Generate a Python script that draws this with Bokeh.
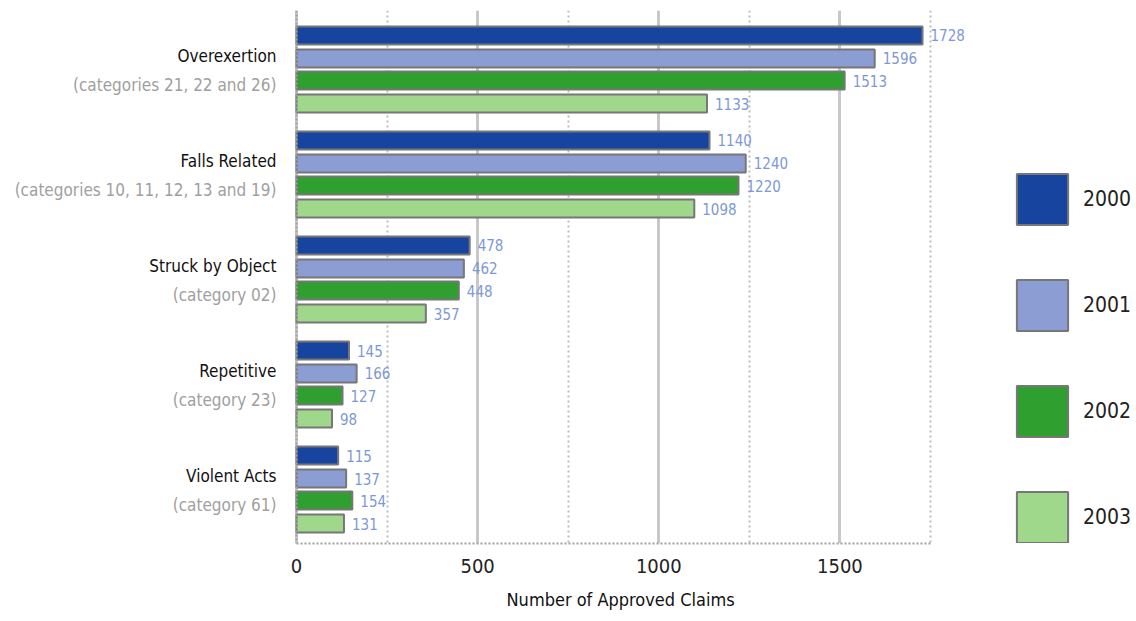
from bokeh.plotting import figure
from bokeh.models import (ColumnDataSource, Range1d, FixedTicker, Span,
                          Legend, LegendItem, Title)
from bokeh.core.properties import value
from bokeh.embed import file_html
from bokeh.resources import INLINE

# Approved claims by injury category and year
categories = ["Overexertion", "Falls Related", "Struck by Object", "Repetitive", "Violent Acts"]
subtitles = ["(categories 21, 22 and 26)", "(categories 10, 11, 12, 13 and 19)",
             "(category 02)", "(category 23)", "(category 61)"]
years = ["2000", "2001", "2002", "2003"]
claims_2000 = [1728, 1140, 478, 145, 115]
claims_2001 = [1596, 1240, 462, 166, 137]
claims_2002 = [1513, 1220, 448, 127, 154]
claims_2003 = [1133, 1098, 357, 98, 131]
x_ticks = [0, 500, 1000, 1500]
x_minor = [250, 750, 1250, 1750]
x_title = "Number of Approved Claims"

series = [claims_2000, claims_2001, claims_2002, claims_2003]
fills = ["#17449f", "#8b9dd2", "#2f9f2f", "#9fd88a"]
offsets = [-0.324, -0.105, 0.105, 0.324]

FONT = "DejaVu Sans Condensed"

# the frame spans the full width so labels and legend sit inside it;
# value 0 lands 296px from the left and 1750 at 930px
W, H = 1136, 621
px0, px1750 = 296, 930
k = (px1750 - px0) / 1750.0
x_lo = -px0 / k
x_hi = (W - px0) / k

p = figure(width=W, height=H, output_backend="svg", toolbar_location=None,
           x_range=Range1d(x_lo, x_hi), y_range=Range1d(4.514, -0.562),
           min_border_left=0, min_border_right=0, min_border_top=10,
           min_border_bottom=78, background_fill_color="white",
           border_fill_color="white", outline_line_color=None)

# grid: solid lines every 500, dotted in between
p.xaxis.ticker = FixedTicker(ticks=x_ticks, minor_ticks=x_minor)
p.xgrid.grid_line_color = "#c8c8c8"
p.xgrid.grid_line_width = 3
p.xgrid.minor_grid_line_color = "#bdbdbd"
p.xgrid.minor_grid_line_width = 2
p.xgrid.minor_grid_line_dash = "2 3"
p.ygrid.grid_line_color = None

p.xaxis.bounds = (0, 1750)
p.xaxis.axis_line_color = "#a0a0a0"
p.xaxis.axis_line_width = 2
p.xaxis.axis_line_dash = "2 2"
p.xaxis.major_tick_line_color = None
p.xaxis.minor_tick_line_color = None
p.xaxis.major_label_text_font = FONT
p.xaxis.major_label_text_font_size = "20px"
p.xaxis.major_label_text_color = "#222222"
p.xaxis.major_label_standoff = 9
p.yaxis.visible = False

# axis title centred under the value scale rather than the whole frame
p.add_layout(Title(text=x_title, align="left", offset=506, standoff=22,
                   text_font=FONT, text_font_size="18px", text_font_style="normal",
                   text_color="#111111"), "below")

# category axis line at zero
p.add_layout(Span(location=0, dimension="height", line_color="#a0a0a0",
                  line_width=2, line_dash="2 2"))

items = []
for yr, vals, fill, off in zip(years, series, fills, offsets):
    src = ColumnDataSource(dict(
        y=[i + off for i in range(len(categories))],
        v=vals,
        t=[str(v) for v in vals],
    ))
    r = p.hbar(y="y", right="v", left=0, height=0.171, source=src,
               fill_color=fill, line_color="#777777", line_width=2)
    items.append(LegendItem(label=yr, renderers=[r]))
    p.text(x="v", y="y", text="t", source=src, x_offset=8,
           text_baseline="middle", text_align="left",
           text_font=value(FONT), text_font_size="15px", text_color="#7e98d4")

# category names and their code references, left of the axis
cat_src = ColumnDataSource(dict(
    x=[-20 / k] * len(categories),
    yn=[i - 0.133 for i in range(len(categories))],
    ys=[i + 0.143 for i in range(len(categories))],
    name=categories,
    sub=subtitles,
))
p.text(x="x", y="yn", text="name", source=cat_src, text_align="right",
       text_baseline="middle", text_font=value(FONT), text_font_size="17px",
       text_color="#111111")
p.text(x="x", y="ys", text="sub", source=cat_src, text_align="right",
       text_baseline="middle", text_font=value(FONT), text_font_size="17px",
       text_color="#a0a0a0")

legend = Legend(items=items, location=(1010, -6), orientation="vertical",
                glyph_width=64, glyph_height=64, spacing=42, padding=0, margin=0,
                label_standoff=9, label_text_font=FONT, label_text_font_size="21px",
                label_text_color="#222222", border_line_color=None,
                background_fill_alpha=0)
p.add_layout(legend)

open("out.html", "w").write(file_html(p, INLINE))
